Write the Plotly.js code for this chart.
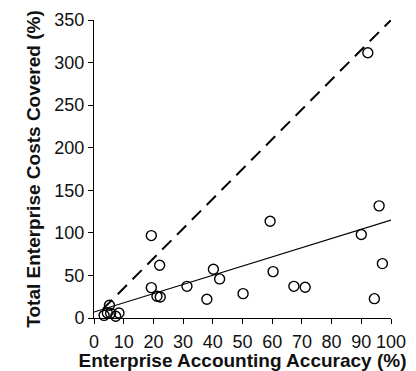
<!DOCTYPE html>
<html>
<head>
<meta charset="utf-8">
<script src="https://cdn.plot.ly/plotly-3.0.1.min.js"></script>
<style>html,body{margin:0;padding:0;background:#fff;}#chart{width:416px;height:371px;}</style>
</head>
<body>
<div id="chart"></div>
<script>
var accuracy = [92.2, 96.0, 59.3, 90.0, 19.3, 22.1, 97.1, 40.2, 60.3, 42.3, 31.3, 67.3, 71.1, 19.3, 50.2, 21.2, 22.3, 38.0, 94.4, 3.4, 4.5, 5.2, 7.3, 8.4, 5.6];
var costs = [311.6, 131.7, 113.7, 98.0, 96.8, 61.9, 63.9, 57.2, 54.5, 45.9, 37.2, 37.2, 36.1, 35.7, 28.6, 25.5, 24.7, 22.0, 22.7, 3.1, 5.9, 14.9, 2.0, 5.9, 5.5];
var fitX = [0, 100];
var fitY = [7, 115];
var dashX = [3, 100];
var dashY = [10.5, 350];
var xTicks = [0, 10, 20, 30, 40, 50, 60, 70, 80, 90, 100];
var yTicks = [0, 50, 100, 150, 200, 250, 300, 350];

var traces = [
  {x: dashX, y: dashY, mode: 'lines', line: {color: '#000', width: 2, dash: '13px,8px'}, hoverinfo: 'skip', cliponaxis: false},
  {x: fitX, y: fitY, mode: 'lines', line: {color: '#000', width: 1.2}, hoverinfo: 'skip', cliponaxis: false},
  {x: accuracy, y: costs, mode: 'markers', cliponaxis: false,
   marker: {symbol: 'circle-open', size: 10, color: '#000', line: {width: 1.4, color: '#000'}}}
];

var fontFam = '"Liberation Sans", Arial, sans-serif';
var layout = {
  width: 416, height: 371,
  margin: {l: 94, r: 25, t: 20, b: 53},
  paper_bgcolor: '#fff', plot_bgcolor: '#fff',
  showlegend: false,
  font: {family: fontFam, color: '#111', size: 18},
  xaxis: {
    range: [0, 100], tickvals: xTicks, ticktext: xTicks.map(String),
    showgrid: false, zeroline: false, showline: true, linecolor: '#000', linewidth: 1,
    ticks: 'outside', ticklen: 5, tickcolor: '#000', tickwidth: 1, ticklabelstandoff: 2,
    tickfont: {size: 18, family: fontFam, color: '#111'},
    title: {text: '<b>Enterprise Accounting Accuracy (%)</b>', font: {size: 19, family: fontFam, color: '#111'}, standoff: 5}
  },
  yaxis: {
    range: [0, 350], tickvals: yTicks, ticktext: yTicks.map(String),
    showgrid: false, zeroline: false, showline: true, linecolor: '#000', linewidth: 1,
    ticks: 'outside', ticklen: 5, tickcolor: '#000', tickwidth: 1,
    tickfont: {size: 18, family: fontFam, color: '#111'},
    title: {text: '<b>Total Enterprise Costs Covered (%)</b>', font: {size: 19, family: fontFam, color: '#111'}, standoff: 8}
  }
};
Plotly.newPlot('chart', traces, layout, {displayModeBar: false, staticPlot: true});
</script>
</body>
</html>
